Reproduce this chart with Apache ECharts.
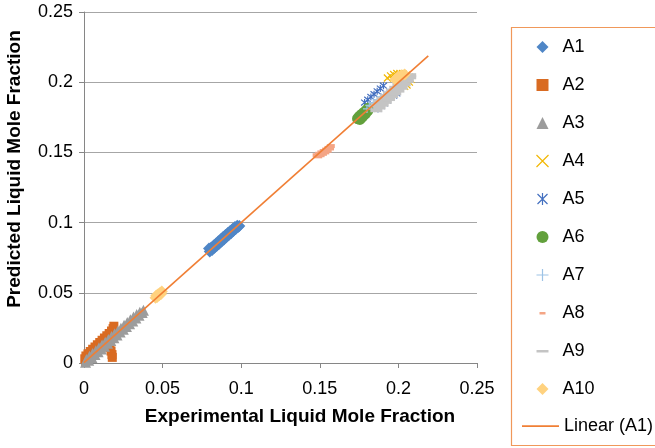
<!DOCTYPE html>
<html>
<head>
<meta charset="utf-8">
<script src="https://cdn.jsdelivr.net/npm/echarts@6/dist/echarts.min.js"></script>
<style>
html,body{margin:0;padding:0;background:#fff;}
#chart{width:655px;height:448px;}
</style>
</head>
<body>
<div id="chart"></div>
<script>
// ---- data ----
const seriesNames = ['A1','A2','A3','A4','A5','A6','A7','A8','A9','A10'];
const trendName = 'Linear (A1)';

const A1 = [[0.0795,0.0815],[0.0800,0.0795],[0.0810,0.0822],[0.0815,0.0805],[0.0825,0.0837],[0.0830,0.0820],
  [0.0840,0.0852],[0.0845,0.0835],[0.0855,0.0867],[0.0860,0.0850],[0.0870,0.0882],[0.0875,0.0865],[0.0885,0.0897],
  [0.0890,0.0880],[0.0900,0.0912],[0.0905,0.0895],[0.0915,0.0926],[0.0920,0.0910],[0.0930,0.0941],[0.0935,0.0925],
  [0.0945,0.0955],[0.0950,0.0940],[0.0960,0.0968],[0.0965,0.0955],[0.0975,0.0978],[0.0980,0.0968],[0.0988,0.0975]];
const A2 = [[0.0005,0.0030],[0.0010,0.0010],[0.0012,0.0050],[0.0020,0.0040],[0.0025,0.0065],[0.0035,0.0065],
  [0.0040,0.0082],[0.0050,0.0080],[0.0055,0.0098],[0.0065,0.0095],[0.0070,0.0114],[0.0080,0.0110],[0.0085,0.0130],
  [0.0095,0.0125],[0.0100,0.0146],[0.0110,0.0140],[0.0115,0.0162],[0.0125,0.0156],[0.0130,0.0178],[0.0140,0.0172],
  [0.0145,0.0194],[0.0155,0.0190],[0.0160,0.0210],[0.0170,0.0208],[0.0175,0.0228],[0.0185,0.0245],[0.0190,0.0262],
  [0.0165,0.0110],[0.0172,0.0085],[0.0178,0.0060],[0.0180,0.0040]];
const A3 = [[0.0010,0.0005],[0.0015,0.0025],[0.0030,0.0020],[0.0035,0.0048],[0.0050,0.0040],[0.0055,0.0068],
  [0.0070,0.0060],[0.0075,0.0088],[0.0090,0.0080],[0.0095,0.0108],[0.0110,0.0100],[0.0115,0.0128],[0.0130,0.0120],
  [0.0135,0.0148],[0.0150,0.0140],[0.0155,0.0168],[0.0170,0.0160],[0.0175,0.0188],[0.0190,0.0180],[0.0195,0.0208],
  [0.0210,0.0200],[0.0215,0.0228],[0.0230,0.0220],[0.0235,0.0248],[0.0250,0.0240],[0.0255,0.0268],[0.0270,0.0260],
  [0.0275,0.0288],[0.0290,0.0280],[0.0295,0.0308],[0.0310,0.0300],[0.0315,0.0328],[0.0330,0.0320],[0.0335,0.0346],
  [0.0350,0.0340],[0.0355,0.0362],[0.0370,0.0360],[0.0378,0.0375]];
const A4 = [[0.1930,0.2030],[0.1950,0.2045],[0.1970,0.2055],[0.1990,0.2062],[0.2010,0.2062],[0.2030,0.2058],
  [0.2050,0.2050],[0.2070,0.2035],[0.2080,0.2020],[0.2070,0.2000],[0.2055,0.1980],[0.2040,0.1970]];
const A5 = [[0.1785,0.1855],[0.1805,0.1875],[0.1825,0.1895],[0.1845,0.1915],[0.1865,0.1935],[0.1885,0.1955],
  [0.1905,0.1975],[0.1870,0.1810],[0.1890,0.1830],[0.1910,0.1850],[0.1930,0.1870],[0.1950,0.1890],[0.1970,0.1905],
  [0.1990,0.1920]];
const A6 = [[0.1740,0.1740],[0.1750,0.1755],[0.1760,0.1745],[0.1765,0.1770],[0.1775,0.1760],[0.1780,0.1785],
  [0.1790,0.1775],[0.1795,0.1800],[0.1805,0.1795],[0.1808,0.1815],[0.1755,0.1735],[0.1770,0.1752]];
const A7 = [[0.1800,0.1810],[0.1815,0.1835],[0.1830,0.1830],[0.1840,0.1855],[0.1855,0.1850],[0.1865,0.1875],
  [0.1880,0.1870],[0.1890,0.1895],[0.1905,0.1890],[0.1915,0.1910],[0.1930,0.1910],[0.1940,0.1925]];
const A8 = [[0.1480,0.1480],[0.1490,0.1472],[0.1495,0.1490],[0.1505,0.1480],[0.1510,0.1500],[0.1520,0.1490],
  [0.1525,0.1510],[0.1535,0.1500],[0.1540,0.1520],[0.1550,0.1512],[0.1555,0.1532],[0.1565,0.1528],[0.1570,0.1545]];
const A9 = [[0.1860,0.1800],[0.1860,0.1835],[0.1880,0.1820],[0.1880,0.1860],[0.1900,0.1840],[0.1900,0.1880],
  [0.1920,0.1860],[0.1920,0.1900],[0.1940,0.1880],[0.1940,0.1920],[0.1960,0.1900],[0.1960,0.1940],
  [0.1980,0.1920],[0.1980,0.1960],[0.2000,0.1940],[0.2000,0.1980],[0.2020,0.1960],[0.2020,0.2000],
  [0.2040,0.1985],[0.2040,0.2020],[0.2060,0.2010],[0.2060,0.2040],[0.2075,0.2035],[0.2075,0.2050]];
const A10 = [[0.0455,0.0465],[0.0460,0.0480],[0.0465,0.0470],[0.0472,0.0490],[0.0478,0.0482],[0.0485,0.0500],
  [0.0490,0.0492],[0.0495,0.0510],[0.1980,0.2020],[0.2000,0.2040],[0.2020,0.2050],[0.2040,0.2055]];
const trendLine = [[0.0, 0.0003],[0.2190, 0.2187]];

const axisMin = 0, axisMax = 0.25, axisStep = 0.05;
const xTitle = 'Experimental Liquid Mole Fraction';
const yTitle = 'Predicted Liquid Mole Fraction';

// ---- styles ----
const colors = {A1:'#4F86C6',A2:'#D96B22',A3:'#9C9C9C',A4:'#F2B705',A5:'#4470C0',A6:'#62A03C',
  A7:'#9DC3E6',A8:'#F4A585',A9:'#C4C4C4',A10:'#FFD27F'};
const X_PATH = 'path://M0,0L10,10M10,0L0,10';
const AST_PATH = 'path://M0,0L10,10M10,0L0,10M5,-1L5,11';
const PLUS_PATH = 'path://M5,0L5,10M0,5L10,5';
const dataMap = {A1,A2,A3,A4,A5,A6,A7,A8,A9,A10};
const symbolDef = {
  A1:{symbol:'diamond',size:12},
  A2:{symbol:'rect',size:9},
  A3:{symbol:'triangle',size:11},
  A4:{symbol:X_PATH,size:7,stroke:true},
  A5:{symbol:AST_PATH,size:7,stroke:true},
  A6:{symbol:'circle',size:11},
  A7:{symbol:PLUS_PATH,size:8,stroke:true},
  A8:{symbol:'rect',size:[8,4]},
  A9:{symbol:'rect',size:[12,4]},
  A10:{symbol:'diamond',size:12}
};
const legendIcons = {
  A1:'diamond', A2:'rect', A3:'triangle', A4:X_PATH, A5:AST_PATH, A6:'circle', A7:PLUS_PATH,
  A8:'path://M0,0M12,12M3,5h6v2.5h-6z', A9:'path://M0,0M12,12M0,5h12v2.5h-12z', A10:'diamond'
};

const series = seriesNames.map(n => {
  const d = symbolDef[n];
  return {
    name:n, type:'scatter', data:dataMap[n], symbol:d.symbol, symbolSize:d.size,
    itemStyle: d.stroke ? {color:'none', borderColor:colors[n], borderWidth:1.2, opacity:1}
                        : {color:colors[n], opacity:1},
    emphasis:{disabled:true}
  };
});
series.push({
  name:trendName, type:'line', data:trendLine, symbol:'none', showSymbol:false, z:10,
  lineStyle:{color:'#F07F35', width:1.6}, itemStyle:{color:'#F07F35'}, emphasis:{disabled:true}
});

const legendData = seriesNames.map(n => {
  const d = symbolDef[n];
  const item = {name:n, icon:legendIcons[n]};
  if (d.stroke) item.itemStyle = {color:'none', borderColor:colors[n], borderWidth:1.2};
  return item;
});

const fontFam = 'Liberation Sans, Arial, sans-serif';
const option = {
  animation:false,
  backgroundColor:'#fff',
  grid:{left:84, top:12, width:393, height:351, containLabel:false},
  xAxis:{
    type:'value', min:axisMin, max:axisMax, interval:axisStep,
    axisLine:{show:true, lineStyle:{color:'#868686', width:1}},
    axisTick:{show:true, inside:false, length:5, lineStyle:{color:'#868686'}},
    axisLabel:{color:'#000', fontSize:18, fontFamily:fontFam, margin:17},
    splitLine:{show:false}
  },
  yAxis:{
    type:'value', min:axisMin, max:axisMax, interval:axisStep,
    axisLine:{show:true, lineStyle:{color:'#868686', width:1}},
    axisTick:{show:true, inside:false, length:5, lineStyle:{color:'#868686'}},
    axisLabel:{color:'#000', fontSize:18, fontFamily:fontFam, margin:11},
    splitLine:{show:true, lineStyle:{color:'#A6A6A6', width:1}}
  },
  legend:[
    {
      data:legendData, orient:'vertical', left:529, top:32, itemWidth:12, itemHeight:12, itemGap:18,
      selectedMode:false,
      textStyle:{color:'#000', fontSize:18, fontFamily:fontFam, lineHeight:20, padding:[0,0,0,9]}
    },
    {
      data:[{name:trendName, icon:'path://M0,0M37,12M0,5.3h37v1.6h-37z'}],
      orient:'vertical', left:517, top:411, itemWidth:37, itemHeight:12,
      selectedMode:false,
      textStyle:{color:'#000', fontSize:18, fontFamily:fontFam, lineHeight:20}
    }
  ],
  graphic:[
    {type:'rect', shape:{x:511.5, y:27.5, width:200, height:418}, style:{fill:'none', stroke:'#F0985A', lineWidth:1.2}, silent:true},
    {type:'text', x:300, y:417, style:{text:xTitle, font:'bold 19px '+fontFam, fill:'#000', align:'center', verticalAlign:'middle'}, silent:true},
    {type:'text', x:15, y:169, rotation:Math.PI/2, style:{text:yTitle, font:'bold 19px '+fontFam, fill:'#000', align:'center', verticalAlign:'middle'}, silent:true}
  ],
  series:series
};
const chart = echarts.init(document.getElementById('chart'), null, {renderer:'canvas'});
chart.setOption(option);
</script>
</body>
</html>
